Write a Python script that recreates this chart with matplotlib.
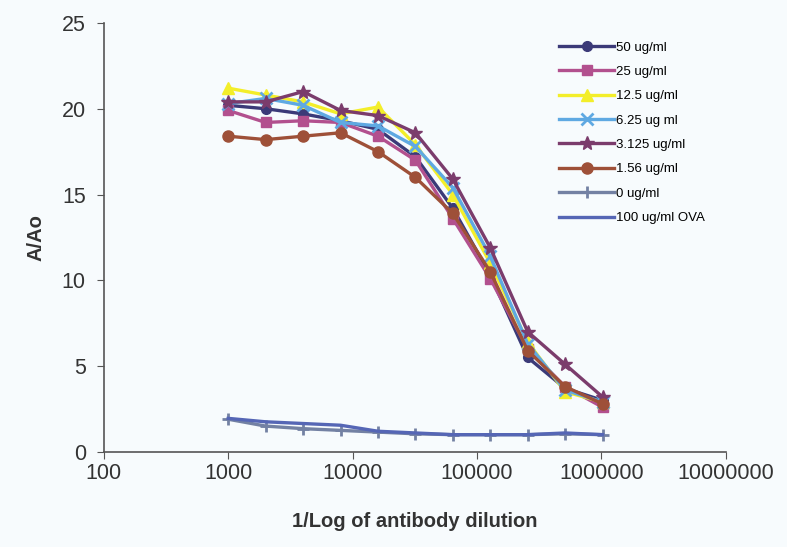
import matplotlib
matplotlib.use("Agg")
import matplotlib.pyplot as plt

# =========================
# DATA
# =========================
dilution = [1000, 2000, 4000, 8000, 16000, 32000, 64000, 128000, 256000, 512000, 1024000]

s_50 = [20.2, 20.0, 19.7, 19.3, 18.8, 17.2, 14.2, 10.3, 5.5, 3.7, 3.0]
s_25 = [19.9, 19.2, 19.3, 19.2, 18.4, 17.0, 13.6, 10.1, 6.0, 3.8, 2.6]
s_12_5 = [21.2, 20.8, 20.4, 19.7, 20.1, 17.9, 15.0, 11.0, 6.4, 3.5, 2.9]
s_6_25 = [20.3, 20.6, 20.2, 19.2, 19.0, 17.8, 15.4, 11.4, 6.3, 3.6, 2.9]
s_3_125 = [20.4, 20.4, 21.0, 19.9, 19.6, 18.6, 15.9, 11.9, 7.0, 5.1, 3.2]
s_1_56 = [18.4, 18.2, 18.4, 18.6, 17.5, 16.0, 13.9, 10.5, 5.9, 3.8, 2.8]
s_0 = [1.9, 1.5, 1.35, 1.25, 1.15, 1.05, 1.0, 1.0, 1.0, 1.05, 1.0]
s_ova = [1.95, 1.75, 1.65, 1.55, 1.2, 1.1, 1.0, 1.0, 1.0, 1.1, 1.0]

labels = ["50 ug/ml", "25 ug/ml", "12.5 ug/ml", "6.25 ug ml",
          "3.125 ug/ml", "1.56 ug/ml", "0 ug/ml", "100 ug/ml OVA"]

plt.rcParams['font.family'] = ['Liberation Sans', 'DejaVu Sans']

fig = plt.figure(figsize=(7.87, 5.47), dpi=100)
fig.patch.set_facecolor('#f7fbfd')
ax = fig.add_axes([0.132, 0.174, 0.790, 0.784])
ax.set_facecolor('#f7fbfd')

# series style: colour, marker, size
styles = [
    ("#3b3a78", "o", 7),
    ("#b2508e", "s", 7),
    ("#f3ee2a", "^", 8),
    ("#5fa9e2", "x", 8),
    ("#7b3c6c", "*", 10),
    ("#9e5038", "o", 8),
    ("#7381a3", "+", 9),
    ("#5566b5", None, 0),
]
series = [s_50, s_25, s_12_5, s_6_25, s_3_125, s_1_56, s_0, s_ova]

for vals, lab, (col, mk, ms) in zip(series, labels, styles):
    ax.plot(dilution, vals, color=col, marker=mk, markersize=ms,
            markeredgewidth=2 if mk in ("x", "+") else 1,
            linewidth=2.4, label=lab)

ax.set_xscale('log')
ax.set_xlim(100, 10000000)
ax.set_ylim(0, 25)
ax.set_xticks([100, 1000, 10000, 100000, 1000000, 10000000])
ax.set_xticklabels(["100", "1000", "10000", "100000", "1000000", "10000000"])
ax.minorticks_off()
ax.set_yticks([0, 5, 10, 15, 20, 25])

ax.spines['top'].set_visible(False)
ax.spines['right'].set_visible(False)
for sp in ('left', 'bottom'):
    ax.spines[sp].set_color('#555555')
    ax.spines[sp].set_linewidth(1.2)
ax.tick_params(axis='both', direction='out', length=5, colors='#555555',
               labelsize=15.5, labelcolor='#333333')
ax.tick_params(axis='x', pad=3)
ax.tick_params(axis='y', pad=8)

ax.set_xlabel("1/Log of antibody dilution", fontsize=14.5, fontweight='bold',
              color='#333333', labelpad=20)
ax.set_ylabel("A/Ao", fontsize=14.5, fontweight='bold', color='#333333', labelpad=12)

leg = ax.legend(loc='upper right', bbox_to_anchor=(0.985, 0.985), frameon=False,
                fontsize=9.5, handlelength=4.2, labelspacing=0.92, handletextpad=0.1)

fig.savefig("out.png", dpi=100, facecolor=fig.get_facecolor())
